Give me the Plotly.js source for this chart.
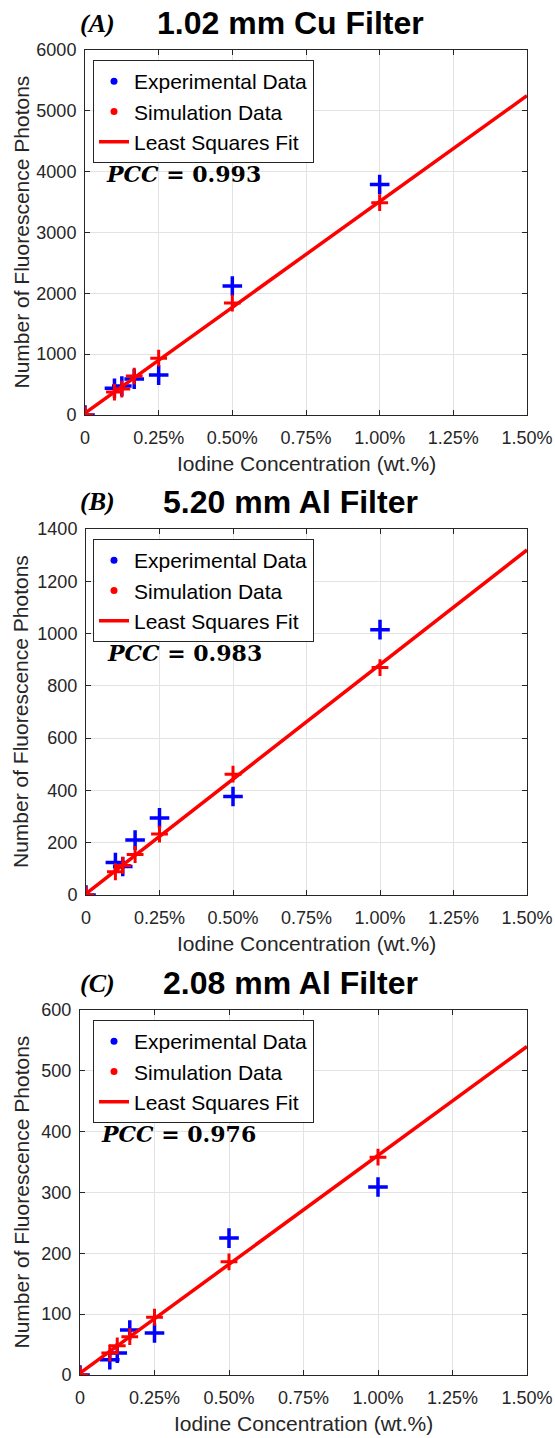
<!DOCTYPE html>
<html>
<head>
<meta charset="utf-8">
<script src="https://cdn.plot.ly/plotly-3.0.1.min.js"></script>
<style>
  html, body { margin: 0; padding: 0; background: #ffffff; }
  #chart { width: 555px; height: 1438px; }
</style>
</head>
<body>
<div id="chart"></div>
<script>
// ---------------- DATA ----------------
const concentration = [0, 0.1, 0.125, 0.167, 0.25, 0.5, 1.0];   // wt.%
const fitX = [0, 1.5];

const panelLabels = ["(A)", "(B)", "(C)"];
const panelTitles = ["1.02 mm Cu Filter", "5.20 mm Al Filter", "2.08 mm Al Filter"];
const pccValues = ["0.993", "0.983", "0.976"];

const expA = [0, 440, 475, 590, 656, 2120, 3790];
const simA = [0, 377, 426, 640, 934, 1840, 3490];
const fitA = [30, 5250];

const expB = [0, 124, 109, 210, 295, 377, 1015];
const simB = [0, 89, 113, 155, 233, 462, 870];
const fitB = [5, 1320];

const expC = [0, 25, 36, 74, 69, 225, 309];
const simC = [0, 36, 48, 63, 95, 186, 358];
const fitC = [3, 540];

const yMax = [6000, 1400, 600];
const yStep = [1000, 200, 100];

const xTickVals = [0, 0.25, 0.5, 0.75, 1.0, 1.25, 1.5];
const xTickText = ["0", "0.25%", "0.50%", "0.75%", "1.00%", "1.25%", "1.50%"];

const seriesNames = ["Experimental Data", "Simulation Data", "Least Squares Fit"];
const xTitle = "Iodine Concentration (wt.%)";
const yTitle = "Number of Fluorescence Photons";

// ---------------- LAYOUT GEOMETRY (pixels) ----------------
const W = 555, H = 1438;
const panels = [
  {left: 85, right: 527, top: 50,   bottom: 415,  exp: expA, sim: simA, fit: fitA},
  {left: 86, right: 527, top: 529,  bottom: 895,  exp: expB, sim: simB, fit: fitB},
  {left: 80, right: 527, top: 1010, bottom: 1375, exp: expC, sim: simC, fit: fitC}
];

const BLUE = "#0000ff", RED = "#ff0000", AX = "#262626";
const SANS = "Liberation Sans, Arial, sans-serif";
const SERIF = "Liberation Serif, Times New Roman, serif";
const MATH = "DejaVu Serif, Liberation Serif, serif";

const px = v => v / W;
const py = v => 1 - v / H;

const traces = [];
const layout = {
  width: W, height: H,
  margin: {l: 0, r: 0, t: 0, b: 0},
  paper_bgcolor: "#ffffff",
  plot_bgcolor: "#ffffff",
  showlegend: true,
  annotations: [],
  font: {family: SANS, color: AX}
};

panels.forEach((p, i) => {
  const n = i === 0 ? "" : String(i + 1);
  const xa = "x" + n, ya = "y" + n;
  const legendId = "legend" + n;

  traces.push({
    x: concentration, y: p.exp, xaxis: xa, yaxis: ya,
    mode: "markers", type: "scatter", showlegend: false, name: seriesNames[0],
    marker: {symbol: "cross-thin", size: 14, color: BLUE, line: {color: BLUE, width: 3.5}}
  });
  traces.push({
    x: concentration, y: p.sim, xaxis: xa, yaxis: ya,
    mode: "markers", type: "scatter", showlegend: false, name: seriesNames[1],
    marker: {symbol: "cross-thin", size: 12, color: RED, line: {color: RED, width: 3}}
  });
  traces.push({
    x: fitX, y: p.fit, xaxis: xa, yaxis: ya,
    mode: "lines", type: "scatter", showlegend: false, name: seriesNames[2],
    line: {color: RED, width: 3.5}
  });
  // legend entries
  traces.push({x: [null], y: [null], xaxis: xa, yaxis: ya, mode: "markers", type: "scatter",
    name: seriesNames[0], legend: legendId, legendgroup: "e" + i,
    marker: {symbol: "circle", size: 7, color: BLUE}});
  traces.push({x: [null], y: [null], xaxis: xa, yaxis: ya, mode: "markers", type: "scatter",
    name: seriesNames[1], legend: legendId, legendgroup: "s" + i,
    marker: {symbol: "circle", size: 7, color: RED}});
  traces.push({x: [null], y: [null], xaxis: xa, yaxis: ya, mode: "lines", type: "scatter",
    name: seriesNames[2], legend: legendId, legendgroup: "f" + i,
    line: {color: RED, width: 3.5}});

  const yTicks = [];
  for (let v = 0; v <= yMax[i]; v += yStep[i]) yTicks.push(v);

  layout["xaxis" + n] = {
    domain: [px(p.left), px(p.right)], anchor: ya, range: [0, 1.5],
    tickvals: xTickVals, ticktext: xTickText,
    showgrid: true, gridcolor: "#e3e3e3", gridwidth: 1, zeroline: false,
    showline: true, linecolor: AX, linewidth: 1, mirror: "ticks",
    ticks: "inside", ticklen: 5, tickcolor: AX, tickwidth: 1,
    tickfont: {family: SANS, size: 18, color: AX}, ticklabelstandoff: 6,
    automargin: false, fixedrange: true
  };
  layout["yaxis" + n] = {
    domain: [py(p.bottom), py(p.top)], anchor: xa, range: [0, yMax[i]],
    tickvals: yTicks,
    showgrid: true, gridcolor: "#e3e3e3", gridwidth: 1, zeroline: false,
    showline: true, linecolor: AX, linewidth: 1, mirror: "ticks",
    ticks: "inside", ticklen: 5, tickcolor: AX, tickwidth: 1,
    tickfont: {family: SANS, size: 18, color: AX}, ticklabelstandoff: 4,
    automargin: false, fixedrange: true
  };
  layout[legendId] = {
    x: px(93), y: py(p.top + 10), xanchor: "left", yanchor: "top",
    xref: "paper", yref: "paper",
    bgcolor: "#ffffff", bordercolor: AX, borderwidth: 1,
    font: {family: SANS, size: 21, color: "#000000"},
    tracegroupgap: 0, itemclick: false, itemdoubleclick: false
  };

  // panel label + title
  layout.annotations.push({
    xref: "paper", yref: "paper", x: px(97), y: py(p.top - 27),
    xanchor: "center", yanchor: "middle", showarrow: false,
    text: "<b><i>" + panelLabels[i] + "</i></b>",
    font: {family: SERIF, size: 26, color: "#000000"}
  });
  layout.annotations.push({
    xref: "paper", yref: "paper", x: px(290), y: py(p.top - 27),
    xanchor: "center", yanchor: "middle", showarrow: false,
    text: "<b>" + panelTitles[i] + "</b>",
    font: {family: SANS, size: 32, color: "#000000"}
  });
  // PCC
  layout.annotations.push({
    xref: "paper", yref: "paper", x: px(p.left + 19), y: py(p.top + 124),
    xanchor: "left", yanchor: "middle", showarrow: false,
    text: "<b><i>PCC</i> = " + pccValues[i] + "</b>",
    font: {family: MATH, size: 22, color: "#000000"}
  });
  // axis titles
  layout.annotations.push({
    xref: "paper", yref: "paper", x: px((p.left + p.right) / 2), y: py(p.bottom + 48),
    xanchor: "center", yanchor: "middle", showarrow: false,
    text: xTitle, font: {family: SANS, size: 21, color: AX}
  });
  layout.annotations.push({
    xref: "paper", yref: "paper", x: px(21), y: py((p.top + p.bottom) / 2),
    xanchor: "center", yanchor: "middle", showarrow: false, textangle: -90,
    text: yTitle, font: {family: SANS, size: 21, color: AX}
  });
});

Plotly.newPlot("chart", traces, layout, {displayModeBar: false, staticPlot: true});
</script>
</body>
</html>
